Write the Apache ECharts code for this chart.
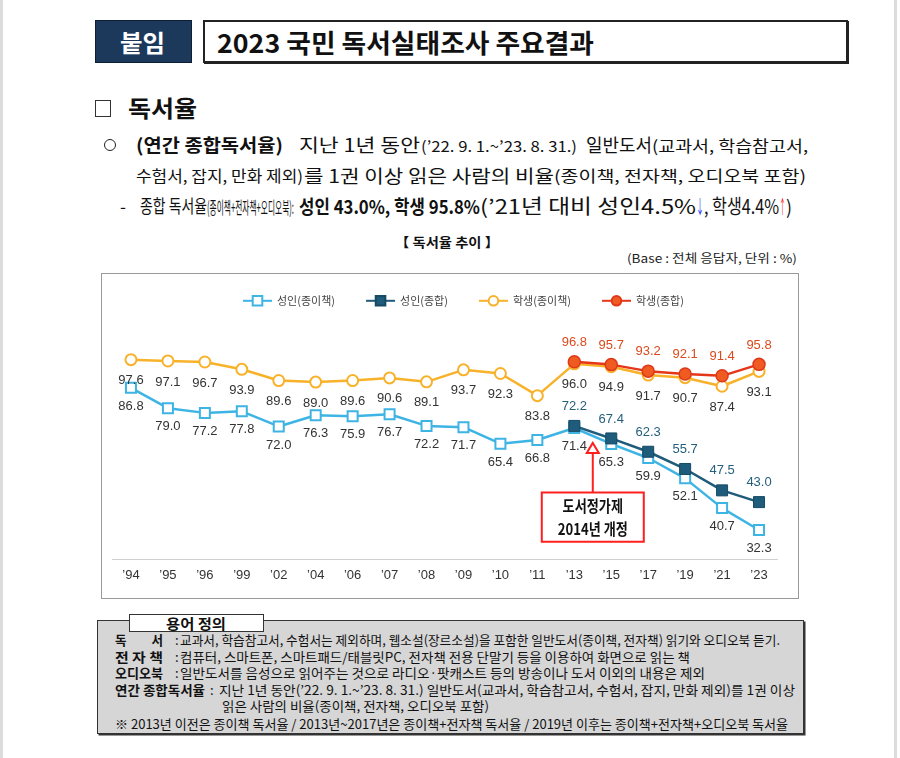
<!DOCTYPE html>
<html><head><meta charset="utf-8">
<script src="https://cdn.jsdelivr.net/npm/echarts@6/dist/echarts.min.js"></script>
<style>
body{margin:0;width:900px;height:758px;background:#fff;position:relative;overflow:hidden;font-family:"Noto Sans CJK KR","Noto Sans",sans-serif;color:#111}
.abs{position:absolute;box-sizing:border-box}
.t{position:absolute;white-space:nowrap;transform-origin:0 50%;line-height:1.2;display:inline-block}
</style></head><body>
<div class="abs" style="left:0;top:0;width:3px;height:758px;background:#dcdcdc"></div>
<div class="abs" style="left:894px;top:0;width:3px;height:758px;background:#dcdcdc"></div>
<div class="abs" style="left:95px;top:20px;width:97px;height:43px;background:#1c395c;border:1px solid #0d1f35"></div>
<div class="abs" style="left:203px;top:20px;width:645px;height:43px;border:2px solid #222;box-shadow:1px 1px 0 #222"></div>
<div class="abs" style="left:95px;top:100px;width:16px;height:17px;border:1.5px solid #333"></div>
<div class="abs" style="left:104px;top:139px;width:12px;height:12px;border:1.4px solid #222;border-radius:50%"></div>
<div class="abs" style="left:101px;top:273px;width:698px;height:326px;border:1px solid #9a9a9a"></div>
<div id="chart" class="abs" style="left:101px;top:273px;width:698px;height:326px"></div>
<div class="abs" style="left:97px;top:620px;width:707px;height:114px;background:#d6d6d6;border:1.5px solid #333;box-shadow:1.5px 1.5px 0 #333"></div>
<div class="abs" style="left:129px;top:614px;width:135px;height:18px;background:#fff;border:1.5px solid #333"></div>
<script>
// ---- chart data ----
const categories = ["’94","’95","’96","’99","’02","’04","’06","’07","’08","’09","’10","’11","’13","’15","’17","’19","’21","’23"];
const seriesNames = ["성인(종이책)","성인(종합)","학생(종이책)","학생(종합)"];
const adultPaper   = [86.8,79.0,77.2,77.8,72.0,76.3,75.9,76.7,72.2,71.7,65.4,66.8,71.4,65.3,59.9,52.1,40.7,32.3];
const adultTotal   = [null,null,null,null,null,null,null,null,null,null,null,null,72.2,67.4,62.3,55.7,47.5,43.0];
const studentPaper = [97.6,97.1,96.7,93.9,89.6,89.0,89.6,90.6,89.1,93.7,92.3,83.8,96.0,94.9,91.7,90.7,87.4,93.1];
const studentTotal = [null,null,null,null,null,null,null,null,null,null,null,null,96.8,95.7,93.2,92.1,91.4,95.8];
const annotationLines = ["도서정가제","2014년 개정"];

// ---- document text ----
function T(html, left, cy, w, style){
  const d=document.createElement('div'); d.className='t'; d.innerHTML=html;
  d.style.cssText += (style||''); d.style.left=left+'px'; d.dataset.cy=cy; if(w) d.dataset.w=w;
  document.body.appendChild(d); return d;
}
T('붙임',120,42,45,'font-size:24px;font-weight:700;color:#fff');
T('2023 국민 독서실태조사 주요결과',217,42,377,'font-size:26px;font-weight:700;color:#111');
T('독서율',128,108,69,'font-size:23px;font-weight:700');
T('(연간 종합독서율)',136,145,147,'font-size:18px;font-weight:700');
T('지난 1년 동안',299,145,121,'font-size:18px');
T('(’22. 9. 1.~’23. 8. 31.)',421,146,156,'font-size:15px');
T('일반도서',586,145,66,'font-size:18px');
T('(교과서, 학습참고서,',652,146,156,'font-size:16px');
T('수험서, 잡지, 만화 제외)',136,176,167,'font-size:16px');
T('를 1권 이상 읽은 사람의 비율',304,176,250,'font-size:18px');
T('(종이책, 전자책, 오디오북 포함)',554,176,252,'font-size:16px');
T('-',120,206,6,'font-size:17px');
T('종합 독서율',140,206,67,'font-size:18px');
T('(종이책+전자책+오디오북):',207,207,87,'font-size:17px');
T('성인 43.0%, 학생 95.8%',299,206,181,'font-size:19px;font-weight:700');
T('(’21년 대비 성인4.5%',480,206,216,'font-size:20px');
T('↓',696,206,8,'font-size:19px;color:#1d3cff');
T(', 학생4.4%',704,206,75,'font-size:20px');
T('↑',779,206,7,'font-size:19px;color:#ff2424');
T(')',786,206,6,'font-size:19px');
T('【 독서율 추이 】',395,242,104,'font-size:13px;font-weight:700');
T('(Base : 전체 응답자, 단위 : %)',627,258,170,'font-size:12px;color:#222');
// definitions box
T('용어 정의',166,623,60,'font-size:14px;font-weight:700');
const dl = [
  ['독　　서',115,640,48,'교과서, 학습참고서, 수험서는 제외하며, 웹소설(장르소설)을 포함한 일반도서(종이책, 전자책) 읽기와 오디오북 듣기.',180,600,175],
  ['전 자 책',115,657,48,'컴퓨터, 스마트폰, 스마트패드/태블릿PC, 전자책 전용 단말기 등을 이용하여 화면으로 읽는 책',180,510,175],
  ['오디오북',115,673,48,'일반도서를 음성으로 읽어주는 것으로 라디오·팟캐스트 등의 방송이나 도서 이외의 내용은 제외',180,525,175],
  ['연간 종합독서율',115,690,90,'지난 1년 동안(’22. 9. 1.~’23. 8. 31.) 일반도서(교과서, 학습참고서, 수험서, 잡지, 만화 제외)를 1권 이상',219,576,210]
];
dl.forEach(r=>{
  T(r[0],r[1],r[2],r[3],'font-size:13px;font-weight:700');
  T(':',r[7],r[2],null,'font-size:13px');
  T(r[4],r[5],r[2],r[6],'font-size:13px');
});
T('읽은 사람의 비율(종이책, 전자책, 오디오북 포함)',222,706,267,'font-size:13px');
T('※ 2013년 이전은 종이책 독서율 / 2013년~2017년은 종이책+전자책 독서율 / 2019년 이후는 종이책+전자책+오디오북 독서율',115,724,673,'font-size:13px');

function fit(){
  document.querySelectorAll('.t').forEach(d=>{
    d.style.transform='none';
    const r=d.getBoundingClientRect();
    if(d.dataset.w) d.style.transform='scaleX('+(+d.dataset.w/r.width)+')';
    d.style.top=(+d.dataset.cy - r.height/2)+'px';
  });
}
fit();
if(document.fonts && document.fonts.ready) document.fonts.ready.then(fit);

// ---- chart ----
const numFont = "'Liberation Sans Narrow','Liberation Sans',Arial,sans-serif";
const lab = (pos, dist, color) => ({show:true, position:pos, distance:dist, color:color, fontSize:13, fontFamily:numFont,
  formatter: p => (p.value==null?'':Number(p.value).toFixed(1))});
const chart = echarts.init(document.getElementById('chart'), null, {renderer:'canvas'});
chart.setOption({
  animation:false,
  backgroundColor:'transparent',
  legend:{left:136, top:17, itemWidth:29, itemHeight:12, itemGap:30,
    textStyle:{fontSize:11, color:'#444', fontFamily:'"Noto Sans CJK KR",sans-serif'},
    data:seriesNames},
  grid:{left:11.5, width:665, top:51.7, height:234.8},
  xAxis:{type:'category', data:categories, boundaryGap:true,
    axisLine:{lineStyle:{color:'#d0d0d0', width:1}}, axisTick:{show:false},
    axisLabel:{color:'#333', fontSize:13, margin:9, fontFamily:numFont}},
  yAxis:{type:'value', min:21, max:111, show:false, splitLine:{show:false}},
  series:[
    {name:seriesNames[0], type:'line', data:adultPaper, symbol:'rect', symbolSize:10,
      lineStyle:{color:'#3eb4e4', width:2.5}, itemStyle:{color:'#fff', borderColor:'#3eb4e4', borderWidth:2},
      label:lab('bottom',6,'#333'), z:2},
    {name:seriesNames[1], type:'line', data:adultTotal, symbol:'rect', symbolSize:11,
      lineStyle:{color:'#1f5b7a', width:2.5}, itemStyle:{color:'#1f5b7a', borderColor:'#174a65', borderWidth:1},
      label:lab('top',7,'#245f7c'), z:3},
    {name:seriesNames[2], type:'line', data:studentPaper, symbol:'circle', symbolSize:11,
      lineStyle:{color:'#f8b22a', width:2.5}, itemStyle:{color:'#fff', borderColor:'#f8b22a', borderWidth:2},
      label:lab('bottom',8,'#333'), z:2},
    {name:seriesNames[3], type:'line', data:studentTotal, symbol:'circle', symbolSize:12,
      lineStyle:{color:'#e5361a', width:2.5}, itemStyle:{color:'#ef5b20', borderColor:'#e0381a', borderWidth:1.5},
      label:lab('top',6,'#dc4a1d'), z:3}
  ]
});
// annotation anchored in data space between '13 and '15
const p13 = chart.convertToPixel({xAxisIndex:0,yAxisIndex:0},[12,65.7]);
const p15 = chart.convertToPixel({xAxisIndex:0,yAxisIndex:0},[13,65.7]);
const boxTop = chart.convertToPixel({yAxisIndex:0},46.7);
const boxBot = chart.convertToPixel({yAxisIndex:0},27.8);
const ax = (p13[0]+p15[0])/2, tipY = p13[1];
const bw = 102;
chart.setOption({graphic:[
  {type:'line', shape:{x1:ax,y1:tipY+10,x2:ax,y2:boxTop}, style:{stroke:'#ff1f1f', lineWidth:2}},
  {type:'polygon', shape:{points:[[ax,tipY],[ax-6,tipY+10],[ax+6,tipY+10]]}, style:{fill:'#fff', stroke:'#ff1f1f', lineWidth:2}},
  {type:'rect', shape:{x:ax-bw/2, y:boxTop, width:bw, height:boxBot-boxTop}, style:{fill:'#fff', stroke:'#ff1f1f', lineWidth:2}},
  {type:'group', x:ax, y:(boxTop+boxBot)/2, scaleX:0.82, children:[
    {type:'text', x:0, y:-11.5, style:{text:annotationLines[0], font:'bold 16px "Noto Sans CJK KR"', fill:'#111', align:'center', verticalAlign:'middle'}},
    {type:'text', x:0, y:12, style:{text:annotationLines[1], font:'bold 16px "Noto Sans CJK KR"', fill:'#111', align:'center', verticalAlign:'middle'}}
  ]}
]});
</script>
</body></html>
